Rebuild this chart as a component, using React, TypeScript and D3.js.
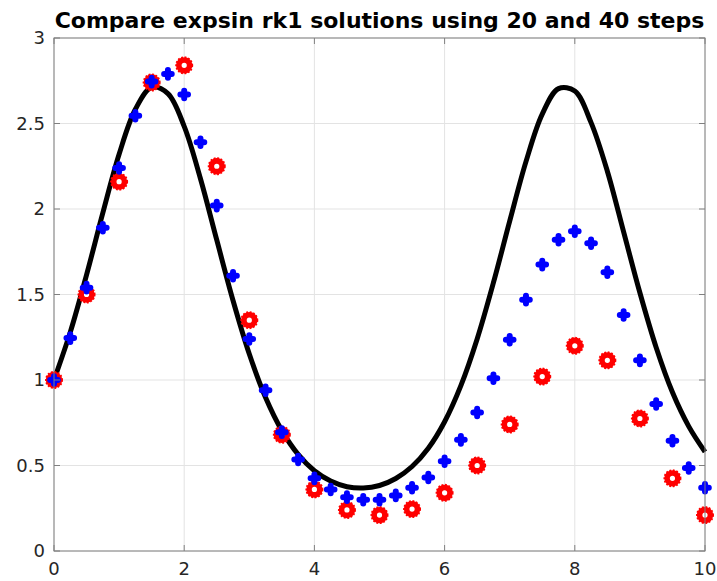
import React from 'react';
import * as d3 from 'd3';

// exact solution, read at 0.25 spacing
const exactT = [0, 0.25, 0.5, 0.75, 1, 1.25, 1.5, 1.75, 2, 2.25, 2.5, 2.75, 3, 3.25, 3.5, 3.75, 4, 4.25, 4.5, 4.75, 5,
  5.25, 5.5, 5.75, 6, 6.25, 6.5, 6.75, 7, 7.25, 7.5, 7.75, 8, 8.25, 8.5, 8.75, 9, 9.25, 9.5, 9.75, 10];
const exactY = [1.0, 1.28, 1.615, 1.977, 2.32, 2.583, 2.711, 2.675, 2.483, 2.177, 1.819, 1.465, 1.152, 0.897, 0.704,
  0.565, 0.469, 0.409, 0.376, 0.368, 0.383, 0.424, 0.494, 0.601, 0.756, 0.967, 1.24, 1.569, 1.929, 2.277, 2.555,
  2.704, 2.69, 2.505, 2.221, 1.866, 1.51, 1.19, 0.928, 0.729, 0.58];

// rk1 with 20 steps (red circles)
const t20 = [0, 0.5, 1, 1.5, 2, 2.5, 3, 3.5, 4, 4.5, 5, 5.5, 6, 6.5, 7, 7.5, 8, 8.5, 9, 9.5, 10];
const y20 = [1.0, 1.5, 2.16, 2.74, 2.84, 2.25, 1.35, 0.68, 0.36, 0.24, 0.21, 0.245, 0.34, 0.5, 0.74, 1.02, 1.2,
  1.115, 0.775, 0.425, 0.21];

// rk1 with 40 steps (blue plus)
const t40 = exactT;
const y40 = [1.0, 1.245, 1.54, 1.89, 2.24, 2.545, 2.745, 2.79, 2.67, 2.39, 2.02, 1.61, 1.24, 0.94, 0.695, 0.535,
  0.425, 0.36, 0.315, 0.3, 0.3, 0.325, 0.37, 0.43, 0.525, 0.65, 0.81, 1.01, 1.235, 1.47, 1.675, 1.82, 1.87, 1.8,
  1.63, 1.38, 1.115, 0.86, 0.645, 0.485, 0.37];

const xTicks = [0, 2, 4, 6, 8, 10];
const yTicks = [0, 0.5, 1, 1.5, 2, 2.5, 3];
const title = 'Compare expsin rk1 solutions using 20 and 40 steps';

const W = 717, H = 581;
const m = { left: 54, right: 12, top: 38, bottom: 30 };

export default function App() {
  const x = d3.scaleLinear().domain([0, 10]).range([m.left, W - m.right]);
  const y = d3.scaleLinear().domain([0, 3]).range([H - m.bottom, m.top]);
  const line = d3.line<number>()
    .x((_, i) => x(exactT[i]))
    .y(d => y(d))
    .curve(d3.curveCatmullRom);

  const x0 = x(0), x1 = x(10), y0 = y(0), y1 = y(3);
  const axisCol = '#262626';
  const font = 'DejaVu Sans, sans-serif';

  return (
    <svg width={W} height={H} style={{ position: 'absolute', left: 0, top: 0, background: '#fff' }}>
      <rect x={0} y={0} width={W} height={H} fill="#fff" />
      {/* grid */}
      {xTicks.map(t => (
        <line key={'gx' + t} x1={x(t)} x2={x(t)} y1={y0} y2={y1} stroke="#e3e3e3" strokeWidth={1} />
      ))}
      {yTicks.map(t => (
        <line key={'gy' + t} x1={x0} x2={x1} y1={y(t)} y2={y(t)} stroke="#e3e3e3" strokeWidth={1} />
      ))}

      {/* exact */}
      <path d={line(exactY) || ''} fill="none" stroke="#000" strokeWidth={5} strokeLinejoin="round" />

      {/* 20 steps */}
      {y20.map((v, i) => (
        <g key={'r' + i} transform={`translate(${x(t20[i])},${y(v)})`}>
          <circle r={5.4} fill="#fff" stroke="#ff0000" strokeWidth={5.6} />
          <circle r={7.9} fill="none" stroke="#ff0000" strokeWidth={2.2} strokeDasharray="1.8 1.6" />
        </g>
      ))}

      {/* 40 steps */}
      {y40.map((v, i) => (
        <path key={'b' + i} transform={`translate(${x(t40[i])},${y(v)})`}
          d="M-3.8,0H3.8M0,-3.8V3.8" stroke="#0000ff" strokeWidth={6} strokeLinecap="round" />
      ))}

      {/* box and ticks */}
      <rect x={x0} y={y1} width={x1 - x0} height={y0 - y1} fill="none" stroke="#808080" strokeWidth={1} />
      {xTicks.map(t => (
        <g key={'tx' + t}>
          <line x1={x(t)} x2={x(t)} y1={y0} y2={y0 - 6} stroke="#808080" />
          <line x1={x(t)} x2={x(t)} y1={y1} y2={y1 + 6} stroke="#808080" />
          <text x={x(t)} y={y0 + 24} textAnchor="middle" fontFamily={font} fontSize={18} fill={axisCol}>{t}</text>
        </g>
      ))}
      {yTicks.map(t => (
        <g key={'ty' + t}>
          <line x1={x0} x2={x0 + 6} y1={y(t)} y2={y(t)} stroke="#808080" />
          <line x1={x1} x2={x1 - 6} y1={y(t)} y2={y(t)} stroke="#808080" />
          <text x={x0 - 9} y={y(t)} dy="0.35em" textAnchor="end" fontFamily={font} fontSize={18} fill={axisCol}>{t}</text>
        </g>
      ))}

      <text x={(x0 + x1) / 2} y={28} textAnchor="middle" fontFamily={font} fontWeight="bold" fontSize={22} fill="#000">
        {title}
      </text>
    </svg>
  );
}
